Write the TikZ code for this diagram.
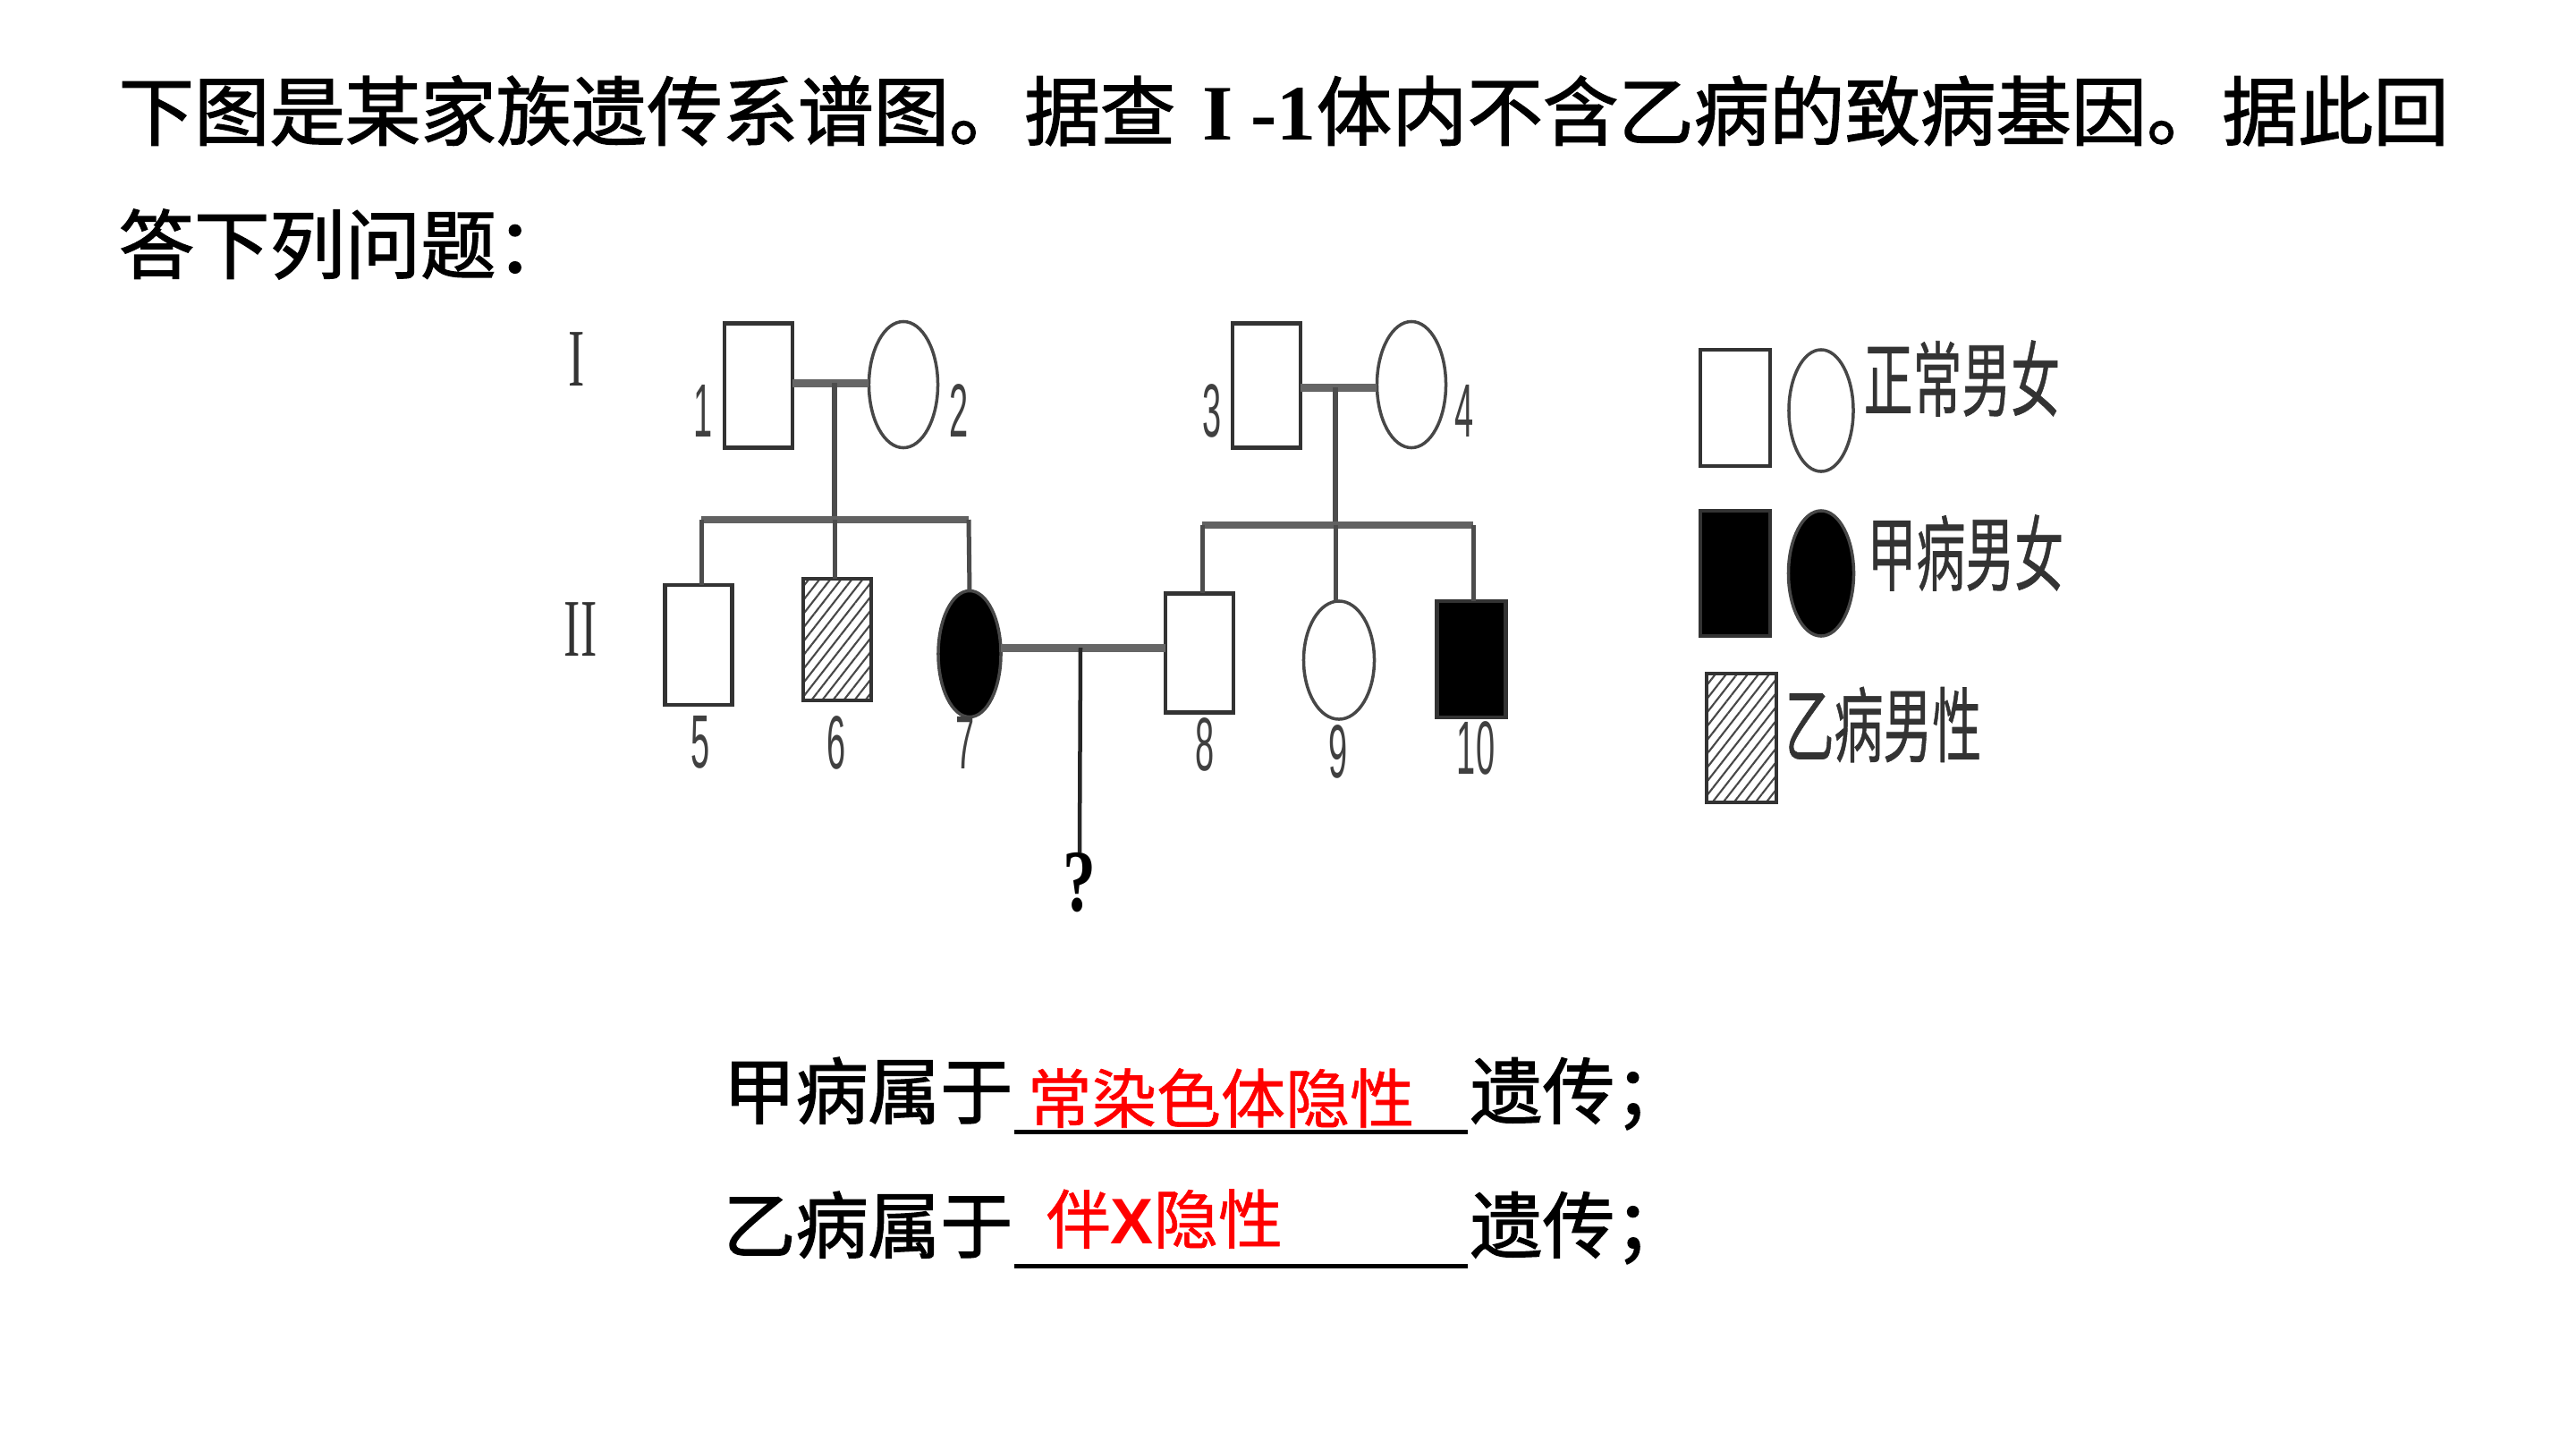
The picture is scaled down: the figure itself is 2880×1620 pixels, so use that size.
\documentclass[tikz,border=0pt]{standalone}
\usepackage{fontspec}
\newfontfamily\cjk{Noto Sans CJK SC}
\newfontfamily\cjkb{Noto Sans CJK SC}[FakeBold=1.6]
\newfontfamily\cjkr{Noto Sans CJK SC}[FakeBold=0.8]
\newfontfamily\serf{Liberation Serif}
\newfontfamily\serfb{Liberation Serif Bold}
\newfontfamily\sanf{Liberation Sans}
\usetikzlibrary{shapes.geometric,patterns.meta}
\definecolor{redtxt}{RGB}{255,0,0}
\tikzset{
  male/.style={rectangle, draw=black!80, line width=0.045cm, inner sep=0pt, outer sep=0pt},
  female/.style={ellipse, draw=black!72, line width=0.035cm, inner sep=0pt, outer sep=0pt},
  affA/.style={fill=black},
  affB/.style={pattern={Lines[angle=52,distance=2.7pt,line width=0.6pt]}, pattern color=black!72},
  marline/.style={draw=black!60, line width=0.09cm},
  sibline/.style={draw=black!62, line width=0.075cm},
  desline/.style={draw=black!70, line width=0.06cm},
  kidline/.style={draw=black!70, line width=0.05cm},
  qline/.style={draw=black!85, line width=0.045cm},
  num/.style={inner sep=0pt, text=black!75, font=\sanf\fontsize{24pt}{24pt}\selectfont},
  gen/.style={inner sep=0pt, text=black!80, font=\serf\fontsize{26pt}{26pt}\selectfont},
  legtxt/.style={inner sep=0pt, anchor=west, text=black!80, font=\cjkr\fontsize{26pt}{30pt}\selectfont},
  bigtxt/.style={inner sep=0pt, anchor=base west, font=\cjkb\fontsize{24pt}{28pt}\selectfont},
  anstxt/.style={inner sep=0pt, anchor=base west, font=\cjkb\fontsize{23pt}{27pt}\selectfont},
  redans/.style={inner sep=0pt, anchor=base west, text=redtxt, font=\cjkr\fontsize{20.5pt}{24pt}\selectfont}
}
\begin{document}
\begin{tikzpicture}[x=0.01cm,y=-0.01cm]
\path[use as bounding box, fill=white] (0,0) rectangle (2880,1620);

% title
\node[bigtxt] (t1) at (132,156) {下图是某家族遗传系谱图。据查\hspace{0.3cm}{\serfb\fontsize{25pt}{28pt}\selectfont I}\hspace{0.2cm}{\serfb\fontsize{25pt}{28pt}\selectfont -1}体内不含乙病的致病基因。据此回};
\node[bigtxt] (t2) at (132,305) {答下列问题：};

% generation labels
\node[gen] (g1) at (645,402) {\scalebox{0.6}[1]{I}};
\node[gen] (g2) at (649,704) {\scalebox{0.6}[1]{II}};

% generation I
\node[male, minimum width=0.76cm, minimum height=1.39cm] (p1) at (848,431) {};
\node[female, minimum width=0.77cm, minimum height=1.41cm] (p2) at (1010,430) {};
\node[male, minimum width=0.76cm, minimum height=1.39cm] (p3) at (1416,431) {};
\node[female, minimum width=0.77cm, minimum height=1.41cm] (p4) at (1578,430) {};

% generation II
\node[male, minimum width=0.75cm, minimum height=1.34cm] (p5) at (781,721) {};
\node[male, affB, minimum width=0.76cm, minimum height=1.36cm] (p6) at (936,715) {};
\node[female, affA, minimum width=0.70cm, minimum height=1.41cm] (p7) at (1084,731) {};
\node[male, minimum width=0.76cm, minimum height=1.33cm] (p8) at (1341,730) {};
\node[female, minimum width=0.79cm, minimum height=1.32cm] (p9) at (1497,738) {};
\node[male, affA, minimum width=0.77cm, minimum height=1.30cm] (p10) at (1645,737) {};

% numbers
\node[num] (n1) at (786,459) {\scalebox{0.45}[1]{1}};
\node[num] (n2) at (1072,459) {\scalebox{0.45}[1]{2}};
\node[num] (n3) at (1355,459) {\scalebox{0.45}[1]{3}};
\node[num] (n4) at (1637,459) {\scalebox{0.45}[1]{4}};
\node[num] (n5) at (783,830) {\scalebox{0.45}[1]{5}};
\node[num] (n6) at (935,830) {\scalebox{0.45}[1]{6}};
\node[num] (n7) at (1079,830) {\scalebox{0.45}[1]{7}};
\node[num] (n8) at (1347,832) {\scalebox{0.45}[1]{8}};
\node[num] (n9) at (1496,840) {\scalebox{0.45}[1]{9}};
\node[num] (n10) at (1650,836) {\scalebox{0.45}[1]{10}};

% family 1-2
\coordinate (m12) at (933,428);
\coordinate (s1L) at (784,581);
\coordinate (s1M) at (933,581);
\coordinate (s1R) at (1083,581);
\draw[marline] (p1.east |- m12) -- (p2.west |- m12);
\draw[desline] (m12) -- (s1M);
\draw[sibline] (s1L) -- (s1R);
\draw[kidline] (s1L) -- (s1L |- p5.north);
\draw[kidline] (s1M) -- (s1M |- p6.north);
\draw[kidline] (s1R) -- (p7.north);

% family 3-4
\coordinate (m34) at (1493,433);
\coordinate (s2L) at (1344,587);
\coordinate (s2M) at (1493,587);
\coordinate (s2R) at (1647,587);
\draw[marline] (p3.east |- m34) -- (p4.west |- m34);
\draw[desline] (m34) -- (s2M);
\draw[sibline] (s2L) -- (s2R);
\draw[kidline] (s2L) -- (s2L |- p8.north);
\draw[kidline] (s2M) -- (s2M |- p9.north);
\draw[kidline] (s2R) -- (s2R |- p10.north);

% marriage 7-8 and child
\coordinate (m78) at (1208,724);
\node[inner sep=0pt, anchor=north, font=\serfb\fontsize{28pt}{28pt}\selectfont] (q) at (1207,953) {\scalebox{0.75}[1]{?}};
\draw[marline] (p7.east |- m78) -- (p8.west |- m78);
\draw[qline] (m78) -- (q.north);

% legend
\node[male, minimum width=0.78cm, minimum height=1.30cm] (l1) at (1940,456) {};
\node[female, minimum width=0.72cm, minimum height=1.36cm] (l2) at (2036,459) {};
\node[legtxt] (lt1) at (2083,423) {\scalebox{0.6}[1]{正常男女}};
\node[male, affA, minimum width=0.78cm, minimum height=1.40cm] (l3) at (1940,641) {};
\node[female, affA, minimum width=0.73cm, minimum height=1.40cm] (l4) at (2036,641) {};
\node[legtxt] (lt2) at (2087,618) {\scalebox{0.6}[1]{甲病男女}};
\node[male, affB, minimum width=0.78cm, minimum height=1.44cm] (l5) at (1947,825) {};
\node[legtxt] (lt3) at (1995,810) {\scalebox{0.6}[1]{乙病男性}};

% questions
\node[anstxt] (a1) at (808,1250) {甲病属于};
\coordinate (u1a) at (1134,1265);
\coordinate (u1b) at (1641,1265);
\draw[line width=0.05cm] (u1a) -- (u1b);
\node[redans] (r1) at (1148,1255) {常染色体隐性};
\node[anstxt] (b1) at (1643,1250) {遗传；};

\node[anstxt] (a2) at (808,1400) {乙病属于};
\coordinate (u2a) at (1134,1415);
\coordinate (u2b) at (1641,1415);
\draw[line width=0.05cm] (u2a) -- (u2b);
\node[redans] (r2) at (1169,1390) {伴{\sanf\bfseries X}隐性};
\node[anstxt] (b2) at (1643,1400) {遗传；};
\end{tikzpicture}
\end{document}
